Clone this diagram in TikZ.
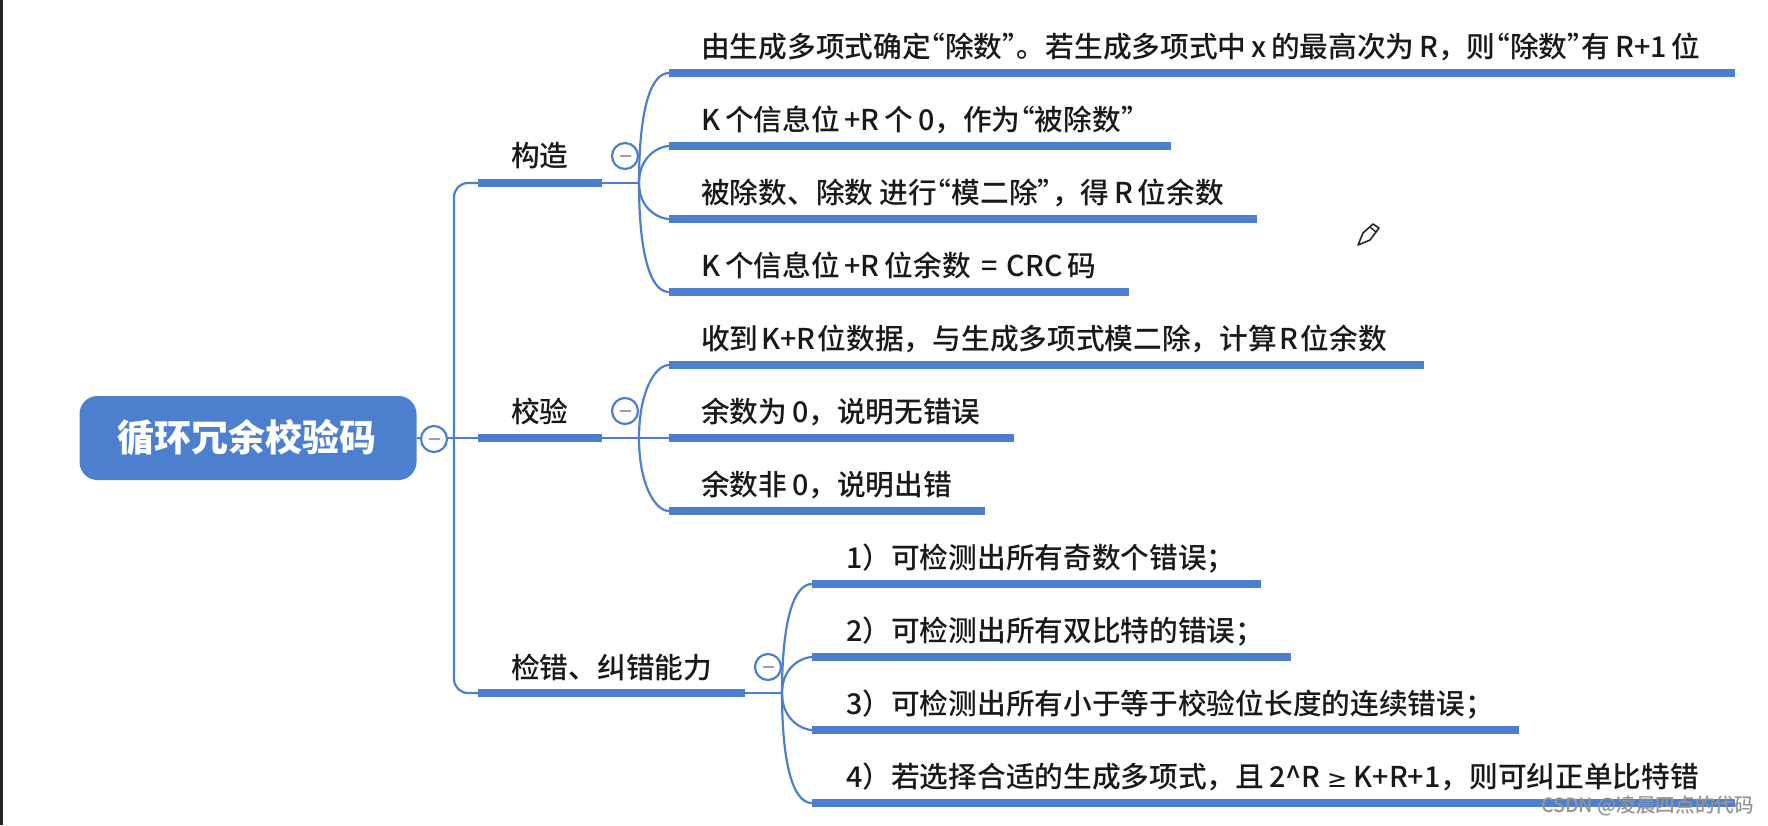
\documentclass[tikz,border=0pt]{standalone}
\usepackage{fontspec}
\usepackage{xcolor}
\setmainfont{Noto Sans CJK SC}[UprightFont={* Medium}]
\newfontfamily\geqfont{DejaVu Sans}
\definecolor{mapblue}{HTML}{4C80CE}
\definecolor{minusgrey}{HTML}{9C9CC4}
\newcommand{\lquo}{\kern-0.5em “}
\newcommand{\rquo}{”\kern-0.5em }
\tikzset{
  rootbox/.style={fill=mapblue,rounded corners=18pt,minimum width=337pt,minimum height=84pt,inner sep=0pt},
  barbox/.style={fill=mapblue,inner sep=0pt,minimum height=8pt,anchor=west},
  wire/.style={mapblue,line width=2.2pt},
  foldmark/.style={circle,draw=mapblue,line width=2.2pt,fill=white,minimum size=26pt,inner sep=0pt},
  leaftext/.style={anchor=base west,inner sep=0pt,text=black!90,font=\fontsize{28.7}{32}\selectfont},
}
\begin{document}
\begin{tikzpicture}[x=1pt,y=-1pt]
            \useasboundingbox (0,0) rectangle (1768,825);
            \fill[black!85] (0,0) rectangle (3,825);
            % Root and first level
            \node[rootbox] (root) at (248,438) {};
            \node[font=\fontsize{37}{40}\selectfont\bfseries,text=white,inner sep=0pt] (roottext) at (247,438) {循环冗余校验码};
            \node[barbox,minimum width=124pt] (build) at (478,183) {};
            \node[barbox,minimum width=124pt] (check) at (478,438) {};
            \node[barbox,minimum width=267pt] (power) at (478,693) {};
            \node[leaftext] at (511,166) (buildtext) {构造};
            \node[leaftext] at (511,422) (checktext) {校验};
            \node[leaftext] at (511,678) (powertext) {检错、纠错能力};
            \coordinate (trunk) at (454,438);
            \draw[wire] (root.east) -- (check.west);
            \draw[wire,rounded corners=14pt] (build.west) -| (trunk) |- (power.west);
            \coordinate (hubbuild) at (639,183);
            \coordinate (hubcheck) at (639,438);
            \coordinate (hubpower) at (782,693);
            \foreach \b/\h in {build/hubbuild, check/hubcheck, power/hubpower} {
                \draw[wire] (\b.east) -- (\h);
            }
            % Second level
            \foreach \n/\hub/\o/\x/\y/\w/\t/\s in {
                a/hubbuild/90/669/73/1066/32/{由生成多项式确定\lquo 除数\rquo 。若生成多项式中\,x\,的最高次为\,R，则\lquo 除数\rquo 有\,R+1\,位},
                b/hubbuild/90/669/146/502/32/{K\,个信息位\,+R\,个\,0，作为\lquo 被除数\rquo},
                c/hubbuild/-90/669/219/588/32/{被除数、除数 进行\lquo 模二除\rquo ，得\,R\,位余数},
                d/hubbuild/-90/669/292/460/32/{K\,个信息位\,+R\,位余数\hspace{4pt} = \hspace{3pt}CRC\,码},
                e/hubcheck/90/669/365/755/32/{收到\kern2.5pt K+R\kern2.5pt 位数据，与生成多项式模二除，计算\kern2.5pt R\kern2.5pt 位余数},
                f/hubcheck/0/669/438/345/32/{余数为\,0，说明无错误},
                g/hubcheck/-90/669/511/316/32/{余数非\,0，说明出错},
                h/hubpower/90/812/584/449/34/{1）可检测出所有奇数个错误；},
                i/hubpower/90/812/657/479/34/{2）可检测出所有双比特的错误；},
                j/hubpower/-90/812/730/707/34/{3）可检测出所有小于等于校验位长度的连续错误；},
                k/hubpower/-90/812/803/923/34/{4）若选择合适的生成多项式，且\,2\^{}R {\geqfont\fontsize{24}{28}\selectfont ≥} K+R+1，则可纠正单比特错}} {
                \node[barbox,minimum width=\w pt] (leaf\n) at (\x,\y) {};
                \node[leaftext] (text\n) at ([xshift=\t pt,yshift=15.5pt]leaf\n.west) {\s};
                \draw[wire] (\hub) to[out=\o,in=180,out looseness=1.5,in looseness=0.45] (leaf\n.west);
            }
            % Fold marks
            \foreach \n/\x/\y in {fa/434/439, fb/625/156, fc/625/411, fd/768/667} {
                \node[foldmark] (\n) at (\x,\y) {};
                \draw[minusgrey,line width=2.6pt] ([xshift=-5.5pt]\n.center) -- ([xshift=5.5pt]\n.center);
            }
            % Pencil
            \draw[black!85,line width=1.6pt,line join=round,fill=white] (1358,245) -- (1363,233) -- (1373,224) -- (1379,228) -- (1370,240) -- cycle;
            \draw[black!85,line width=1.4pt] (1370,227) -- (1376,232);
            % Watermark
            \node[anchor=base east,inner sep=0pt,text=black!42,font=\fontsize{19.6}{22}\selectfont] (mark) at (1754,812) {CSDN @凌晨四点的代码};
\end{tikzpicture}
\end{document}
